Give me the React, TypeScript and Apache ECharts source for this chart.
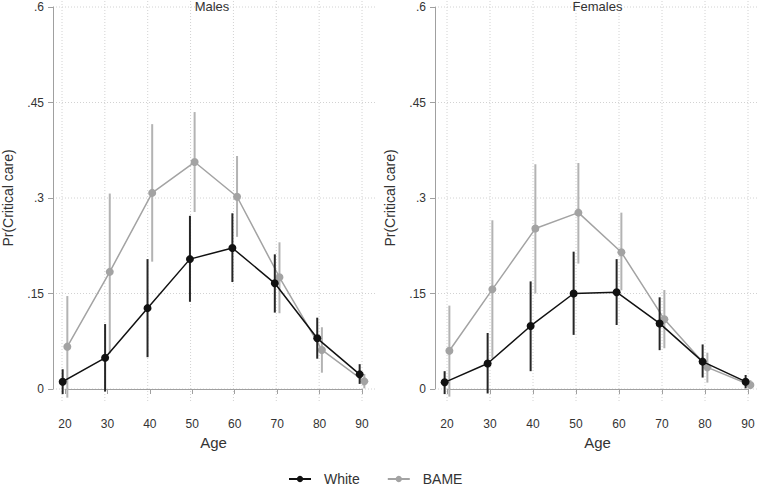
import React, { useEffect, useRef } from "react";
import * as echarts from "echarts";

const AGES = [20, 30, 40, 50, 60, 70, 80, 90];
const Y_TICKS = [0, 0.15, 0.3, 0.45, 0.6];

const maleWhite = [0.0115, 0.049, 0.127, 0.204, 0.2215, 0.166, 0.0796, 0.023];
const maleWhiteLo = [-0.008, -0.004, 0.05, 0.137, 0.168, 0.12, 0.0476, 0.008];
const maleWhiteHi = [0.031, 0.102, 0.204, 0.272, 0.276, 0.2115, 0.112, 0.039];
const maleBame = [0.0665, 0.184, 0.308, 0.3565, 0.302, 0.1755, 0.0613, 0.012];
const maleBameLo = [-0.0136, 0.056, 0.2, 0.278, 0.239, 0.119, 0.0256, 0.001];
const maleBameHi = [0.146, 0.307, 0.416, 0.435, 0.366, 0.2304, 0.097, 0.0236];

const femaleWhite = [0.0105, 0.04, 0.099, 0.15, 0.152, 0.103, 0.043, 0.0115];
const femaleWhiteLo = [-0.008, -0.007, 0.028, 0.085, 0.1005, 0.061, 0.018, 0.001];
const femaleWhiteHi = [0.028, 0.088, 0.169, 0.2157, 0.204, 0.144, 0.07, 0.022];
const femaleBame = [0.06, 0.1565, 0.252, 0.277, 0.2147, 0.1095, 0.034, 0.0063];
const femaleBameLo = [-0.012, 0.048, 0.15, 0.197, 0.155, 0.064, 0.01, 0.0016];
const femaleBameHi = [0.131, 0.265, 0.353, 0.355, 0.277, 0.1555, 0.057, 0.014];

const PANEL_TITLES = ["Males", "Females"];
const X_NAME = "Age";
const Y_NAME = "Pr(Critical care)";
const GROUPS = ["White", "BAME"];

const FONT = "'Liberation Sans', Arial, sans-serif";
const BLACK = "#111111";
const BLACK_CI = "#262626";
const GRAY = "#a3a3a3";
const GRAY_CI = "#b3b3b3";
const AXIS_COLOR = "#a0a0a0";
const TEXT = "#333333";

const X_MIN = 20, X_MAX = 90, Y_MIN = 0, Y_MAX = 0.6;
const OFFSET = 0.55;

// panel layout (pixels)
const PANELS = [
  { exL: 62, exW: 300, bgL: 50, bgR: 375 },
  { exL: 447, exW: 301, bgL: 435, bgR: 758 },
];
const EX_TOP = 7, EX_H = 382, BG_TOP = 0, BG_BOTTOM = 401;

function fmtY(v: number) {
  const r = Number(v.toFixed(2));
  if (r === 0) return "0";
  return String(r).replace(/^0/, "");
}

export default function App() {
  const ref = useRef<HTMLDivElement>(null);
  useEffect(() => {
    if (!ref.current) return;
    const chart = echarts.init(ref.current, undefined, { renderer: "svg" });

    const grid: any[] = [];
    const xAxis: any[] = [];
    const yAxis: any[] = [];
    const series: any[] = [];
    const title: any[] = [];

    const sets = [
      { w: maleWhite, wl: maleWhiteLo, wh: maleWhiteHi, b: maleBame, bl: maleBameLo, bh: maleBameHi },
      { w: femaleWhite, wl: femaleWhiteLo, wh: femaleWhiteHi, b: femaleBame, bl: femaleBameLo, bh: femaleBameHi },
    ];

    PANELS.forEach((p, k) => {
      const ppuX = p.exW / (X_MAX - X_MIN);
      const ppuY = EX_H / (Y_MAX - Y_MIN);
      const bgXMin = X_MIN - (p.exL - p.bgL) / ppuX;
      const bgXMax = X_MAX + (p.bgR - (p.exL + p.exW)) / ppuX;
      const bgYMax = Y_MAX + (EX_TOP - BG_TOP) / ppuY;
      const bgYMin = Y_MIN - (BG_BOTTOM - (EX_TOP + EX_H)) / ppuY;

      const gEx = grid.length;
      grid.push({ left: p.exL, top: EX_TOP, width: p.exW, height: EX_H });
      const gBg = grid.length;
      grid.push({ left: p.bgL, top: BG_TOP, width: p.bgR - p.bgL, height: BG_BOTTOM - BG_TOP });

      const xEx = xAxis.length;
      xAxis.push({
        type: "value", gridIndex: gEx, min: X_MIN, max: X_MAX, interval: 10, offset: 18,
        axisLine: { show: true, lineStyle: { color: AXIS_COLOR, width: 1 } },
        axisTick: { show: true, length: 5, lineStyle: { color: AXIS_COLOR } },
        axisLabel: { margin: 11, fontSize: 12, color: TEXT, fontFamily: FONT },
        splitLine: { show: false },
        name: X_NAME, nameLocation: "middle", nameGap: 27,
        nameTextStyle: { fontSize: 15, color: TEXT, fontFamily: FONT },
      });
      const xBg = xAxis.length;
      xAxis.push({ type: "value", gridIndex: gBg, min: bgXMin, max: bgXMax, show: false });

      const yEx = yAxis.length;
      yAxis.push({
        type: "value", gridIndex: gEx, min: Y_MIN, max: Y_MAX, interval: 0.15, offset: 12,
        axisLine: { show: true, lineStyle: { color: AXIS_COLOR, width: 1 } },
        axisTick: { show: true, length: 5, lineStyle: { color: AXIS_COLOR } },
        axisLabel: { margin: 9, fontSize: 12, color: TEXT, fontFamily: FONT, formatter: fmtY },
        splitLine: { show: false },
        name: Y_NAME, nameLocation: "middle", nameGap: 38, nameRotate: 90,
        nameTextStyle: { fontSize: 14, color: TEXT, fontFamily: FONT },
      });
      const yBg = yAxis.length;
      yAxis.push({ type: "value", gridIndex: gBg, min: bgYMin, max: bgYMax, show: false });

      title.push({
        text: PANEL_TITLES[k], left: p.exL + p.exW / 2, top: 0, textAlign: "center", padding: 0,
        textStyle: { fontSize: 13, fontWeight: "normal", color: TEXT, fontFamily: FONT },
      });

      const gridStyle = { stroke: "#d2d2d2", lineWidth: 1, lineDash: [1, 2] };
      series.push({
        type: "custom", name: "vgrid" + k, xAxisIndex: xBg, yAxisIndex: yBg, z: 0, silent: true,
        data: AGES.map((a) => [a]),
        renderItem: (params: any, api: any) => {
          const x = api.value(0);
          const a = api.coord([x, bgYMin]);
          const b = api.coord([x, bgYMax]);
          return { type: "line", shape: { x1: a[0], y1: a[1], x2: b[0], y2: b[1] }, style: gridStyle };
        },
      });
      series.push({
        type: "custom", name: "hgrid" + k, xAxisIndex: xBg, yAxisIndex: yBg, z: 0, silent: true,
        data: Y_TICKS.map((t) => [bgXMin, t]),
        encode: { x: 0, y: 1 },
        renderItem: (params: any, api: any) => {
          const y = api.value(1);
          const a = api.coord([bgXMin, y]);
          const b = api.coord([bgXMax, y]);
          return { type: "line", shape: { x1: a[0] + 3, y1: a[1], x2: b[0], y2: b[1] }, style: gridStyle };
        },
      });

      const s = sets[k];
      const ci = (name: string, lo: number[], hi: number[], dx: number, color: string, z: number) => ({
        type: "custom", name, xAxisIndex: xEx, yAxisIndex: yEx, z, silent: true,
        data: AGES.map((a, i) => [a + dx, lo[i], hi[i]]),
        encode: { x: 0, y: [1, 2] },
        renderItem: (params: any, api: any) => {
          const a = api.coord([api.value(0), api.value(1)]);
          const b = api.coord([api.value(0), api.value(2)]);
          return { type: "line", shape: { x1: a[0], y1: a[1], x2: b[0], y2: b[1] }, style: { stroke: color, lineWidth: 2 } };
        },
      });
      const line = (name: string, vals: number[], dx: number, color: string, z: number) => ({
        type: "line", name, xAxisIndex: xEx, yAxisIndex: yEx, z, clip: false,
        data: AGES.map((a, i) => [a + dx, vals[i]]),
        symbol: "circle", symbolSize: 8,
        itemStyle: { color },
        lineStyle: { color, width: 1.5 },
      });
      series.push(ci("BAME CI " + k, s.bl, s.bh, OFFSET, GRAY_CI, 2));
      series.push(line("BAME", s.b, OFFSET, GRAY, 3));
      series.push(ci("White CI " + k, s.wl, s.wh, -OFFSET, BLACK_CI, 4));
      series.push(line("White", s.w, -OFFSET, BLACK, 5));
    });

    chart.setOption({
      animation: false,
      backgroundColor: "#ffffff",
      title,
      grid,
      xAxis,
      yAxis,
      series,
      legend: {
        data: GROUPS,
        left: 288, top: 472, padding: 0, itemWidth: 22, itemHeight: 8, itemGap: 27,
        textStyle: { fontSize: 14, color: TEXT, fontFamily: FONT, padding: [0, 0, 0, 8] },
      },
    });
    return () => chart.dispose();
  }, []);
  return <div ref={ref} style={{ position: "absolute", left: 0, top: 0, width: 759, height: 486 }} />;
}
